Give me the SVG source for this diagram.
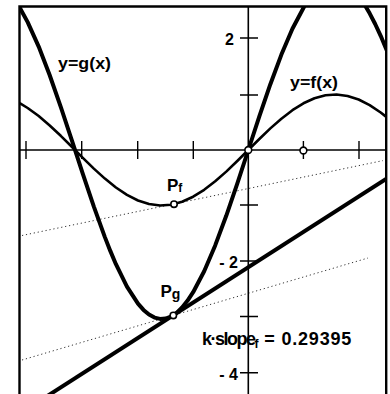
<svg xmlns="http://www.w3.org/2000/svg" width="390" height="394" viewBox="0 0 390 394">
<style>
.lbl{font-family:"Liberation Sans",Arial,sans-serif;font-weight:bold;fill:#000}
.ax{stroke:#000;stroke-width:1.6;fill:none}
.tick{stroke:#000;stroke-width:1.4}
.dot{stroke:#333;stroke-width:1;stroke-dasharray:1.2 2.8;fill:none}
.pt{fill:#fff;stroke:#000;stroke-width:1.6}
</style>
<defs>
<clipPath id="frameClip"><rect x="19.5" y="7" width="366.8" height="387"/></clipPath>
</defs>
<rect width="390" height="394" fill="#fff"/>
<g id="plot" clip-path="url(#frameClip)">
<g id="dotted-lines">
<line class="dot" x1="22" y1="235.5" x2="383" y2="160.6"/>
<line class="dot" x1="22" y1="360" x2="368" y2="258"/>
</g>
<g id="axes">
<line class="ax" x1="19.5" y1="150" x2="386" y2="150" stroke-width="2"/>
<line class="ax" x1="248.3" y1="7" x2="248.3" y2="394"/>
<g id="x-ticks">
<line class="tick" x1="26" y1="141" x2="26" y2="159"/>
<line class="tick" x1="81.7" y1="141" x2="81.7" y2="159"/>
<line class="tick" x1="137.7" y1="141" x2="137.7" y2="159"/>
<line class="tick" x1="193.3" y1="141" x2="193.3" y2="159"/>
<line class="tick" x1="303.4" y1="141" x2="303.4" y2="159"/>
<line class="tick" x1="359" y1="141" x2="359" y2="159"/>
</g>
<g id="y-ticks">
<line class="tick" x1="240" y1="38" x2="258" y2="38"/>
<line class="tick" x1="240" y1="95" x2="258" y2="95"/>
<line class="tick" x1="240" y1="205" x2="258" y2="205"/>
<line class="tick" x1="240" y1="261" x2="258" y2="261"/>
<line class="tick" x1="240" y1="316.5" x2="258" y2="316.5"/>
<line class="tick" x1="240" y1="372.7" x2="258" y2="372.7"/>
</g>
</g>
<g id="curve-f">
<polyline fill="none" stroke="#000" stroke-width="2.6" stroke-linejoin="round" points="19.72,103.23 27.66,108.00 38.69,116.04 49.72,125.44 60.76,135.82 71.79,146.76 82.82,157.83 93.85,168.59 104.88,178.61 115.92,187.49 126.95,194.87 137.98,200.47 149.01,204.05 160.04,205.48 171.08,204.69 182.11,201.73 193.14,196.70 204.17,189.82 215.20,181.34 226.24,171.61 237.27,161.03 248.3,150 259.33,138.97 270.36,128.39 281.40,118.66 292.43,110.18 303.46,103.30 314.49,98.27 325.52,95.31 336.56,94.52 347.59,95.95 358.62,99.53 369.65,105.13 380.68,112.51 385.98,116.62 392,121"/>
</g>
<g id="curve-g">
<polyline fill="none" stroke="#000" stroke-width="4" stroke-linejoin="round" points="17,2.5 19.72,7.58 27.66,22.10 38.69,46.59 49.72,75.22 60.76,106.82 71.79,140.13 82.82,173.85 93.85,206.62 104.88,237.12 110.40,251.15 115.92,264.16 126.95,286.64 137.98,303.67 143.50,309.93 149.01,314.57 154.53,317.60 160.04,318.93 165.56,318.58 171.08,316.53 176.59,312.85 182.11,307.51 187.62,300.61 193.14,292.21 204.17,271.24 215.20,245.42 226.24,215.81 237.27,183.58 248.3,150 259.33,116.42 270.36,84.19 281.40,54.58 292.43,28.76 303.94,7 306,3"/>
<polyline fill="none" stroke="#000" stroke-width="4" stroke-linejoin="round" points="363.5,3 365.95,7 369.65,13.36 375.17,23.98 380.68,35.84 385.98,48.35 390,58"/>
</g>
<g id="tangent-g">
<line x1="45" y1="397.5" x2="390" y2="176.4" stroke="#000" stroke-width="4"/>
</g>
</g>
<g id="frame" fill="none" stroke="#000" stroke-width="2.4">
<polyline points="19.5,394 19.5,6.5 386.2,6.5 386.2,394"/>
</g>
<g id="points">
<circle class="pt" cx="248.3" cy="150" r="3.4"/>
<circle class="pt" cx="303.4" cy="150.5" r="3.4"/>
<circle id="Pf" class="pt" cx="174" cy="204.2" r="3.2"/>
<circle id="Pg" class="pt" cx="173.3" cy="315.4" r="3.2"/>
</g>
<g id="labels">
<text class="lbl" x="234" y="45" font-size="16" text-anchor="end">2</text>
<text class="lbl" x="238" y="268" font-size="16" text-anchor="end">- 2</text>
<text class="lbl" x="238" y="380" font-size="16" text-anchor="end">- 4</text>
<text class="lbl" x="58" y="69" font-size="17" textLength="53" lengthAdjust="spacingAndGlyphs">y=g(x)</text>
<text class="lbl" x="290" y="88" font-size="17" textLength="48" lengthAdjust="spacingAndGlyphs">y=f(x)</text>
<text class="lbl" x="167" y="191" font-size="17">P<tspan font-size="12" dy="1">f</tspan></text>
<text class="lbl" x="160.5" y="297" font-size="17">P<tspan font-size="14" dy="1.5">g</tspan></text>
<text class="lbl" x="202" y="345" font-size="18"><tspan letter-spacing="-1.5">k·slope</tspan><tspan font-size="12" dy="3">f</tspan><tspan dy="-3" letter-spacing="0.8"> = 0.29395</tspan></text>
</g>
</svg>
